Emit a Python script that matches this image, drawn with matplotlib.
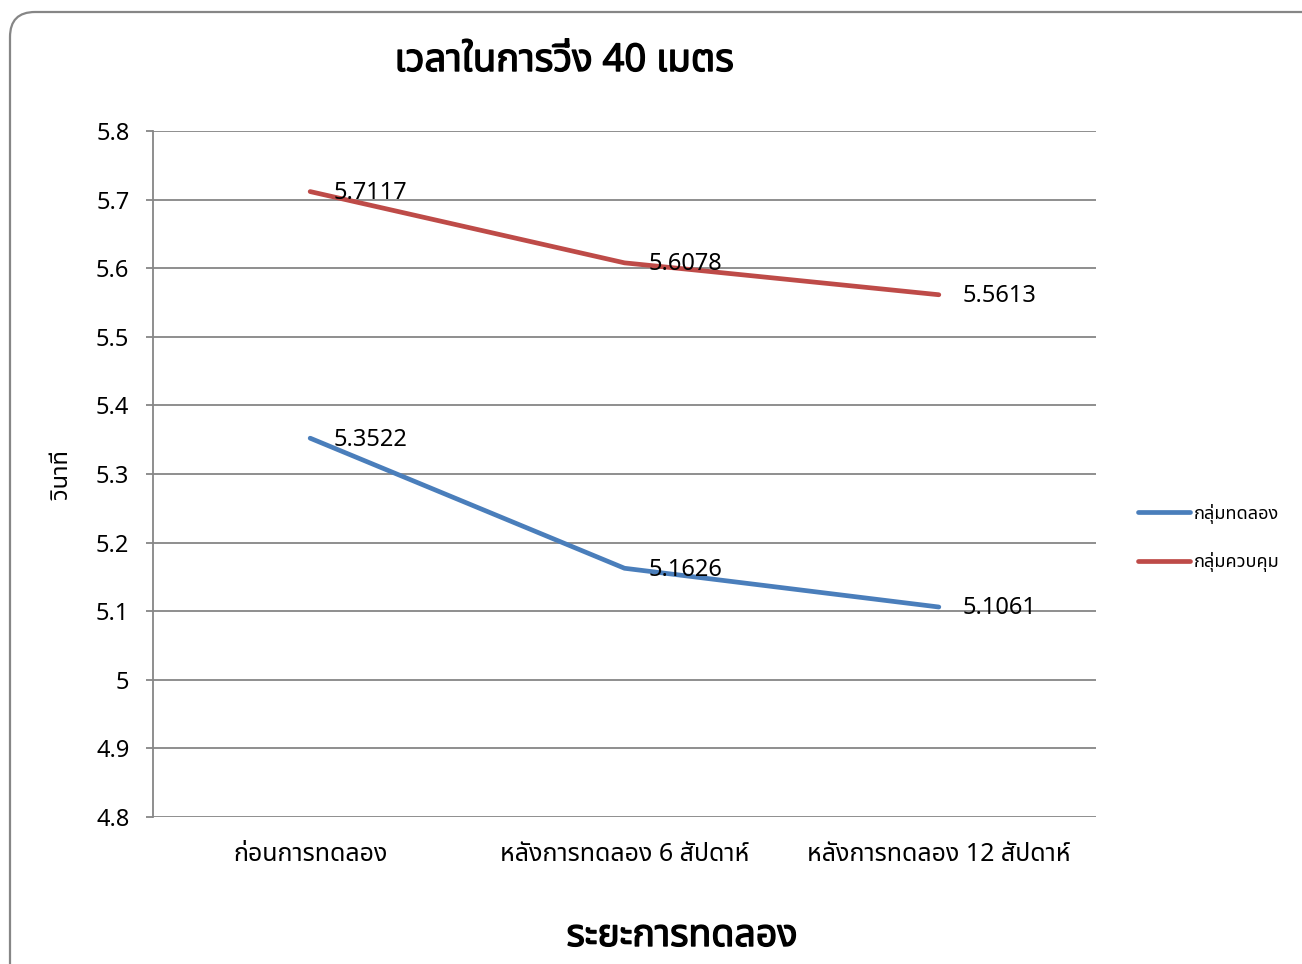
import matplotlib
matplotlib.use("Agg")
import matplotlib.pyplot as plt
import matplotlib.patheffects as pe
from matplotlib.patches import FancyBboxPatch

plt.rcParams["font.family"] = ["Noto Sans Thai", "DejaVu Sans"]

# data
categories = ["ก่อนการทดลอง", "หลังการทดลอง 6 สัปดาห์", "หลังการทดลอง 12 สัปดาห์"]
test_group = [5.3522, 5.1626, 5.1061]
control_group = [5.7117, 5.6078, 5.5613]
series_names = ["กลุ่มทดลอง", "กลุ่มควบคุม"]
yticks = [4.8, 4.9, 5.0, 5.1, 5.2, 5.3, 5.4, 5.5, 5.6, 5.7, 5.8]
ytick_labels = ["4.8", "4.9", "5", "5.1", "5.2", "5.3", "5.4", "5.5", "5.6", "5.7", "5.8"]

W, H = 1302, 964
fig = plt.figure(figsize=(W / 100, H / 100), dpi=100)
ax = fig.add_axes([153 / W, 1 - 817 / H, (1096 - 153) / W, (817 - 131) / H])

x = list(range(len(categories)))
l1, = ax.plot(x, test_group, color="#4A7EBB", lw=3.4, solid_capstyle="round", label=series_names[0])
l2, = ax.plot(x, control_group, color="#BE4B48", lw=3.4, solid_capstyle="round", label=series_names[1])

for ys in [test_group, control_group]:
    for xi, yi in zip(x, ys):
        ax.annotate(f"{yi:.4f}", (xi, yi), xytext=(17, -1), textcoords="offset points",
                    va="center", ha="left", fontsize=17, color="black")

ax.set_xlim(-0.5, 2.5)
ax.set_ylim(4.8, 5.8)
ax.set_yticks(yticks)
ax.set_yticklabels(ytick_labels)
ax.set_xticks(x)
ax.set_xticklabels(categories)
ax.grid(axis="y", color="#868686", lw=1.3)
ax.set_axisbelow(True)
for s in ["top", "right", "bottom"]:
    ax.spines[s].set_visible(False)
ax.spines["left"].set_color("#868686")
ax.spines["left"].set_linewidth(1.3)
ax.tick_params(axis="y", length=5, color="#868686", width=1.3, labelsize=17, pad=12)
ax.tick_params(axis="x", length=0, labelsize=18, pad=18)

bold = [pe.withStroke(linewidth=1.0, foreground="black")]
fig.text(564 / W, 1 - 61 / H, "เวลาในการวิ่ง 40 เมตร", ha="center", va="center",
         fontsize=27.5, path_effects=bold)
fig.text(682 / W, 1 - 936 / H, "ระยะการทดลอง", ha="center", va="center",
         fontsize=27, path_effects=bold)
fig.text(63 / W, 1 - 475 / H, "วินาที", ha="center", va="center", rotation=90, fontsize=17)

fig.legend(handles=[l1, l2], loc="center left", bbox_to_anchor=(1122 / W, 1 - 538 / H),
           frameon=False, fontsize=13, handlelength=2.85, handletextpad=0.2, labelspacing=1.6)

border = FancyBboxPatch((10, -40), 1340, H - 12 + 40, boxstyle="round,pad=0,rounding_size=25",
                        transform=None, fill=False, edgecolor="#868686", lw=1.6)
fig.patches.append(border)

fig.savefig("out.png", dpi=100)
